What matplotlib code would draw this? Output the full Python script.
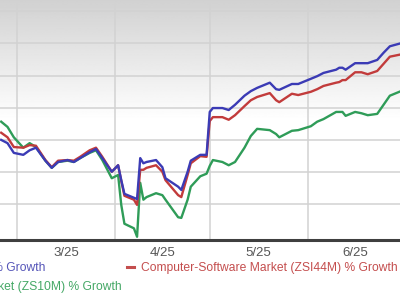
import numpy as np
import pandas as pd
import matplotlib
matplotlib.use("Agg")
import matplotlib.pyplot as plt
from matplotlib.lines import Line2D

plt.rcParams["font.family"] = ["Liberation Sans", "DejaVu Sans"]

dates = pd.to_datetime([
    "2025-02-24", "2025-02-26", "2025-02-28",
    "2025-03-03", "2025-03-05", "2025-03-07", "2025-03-10", "2025-03-12", "2025-03-14",
    "2025-03-17", "2025-03-19", "2025-03-21", "2025-03-24", "2025-03-26", "2025-03-28",
    "2025-03-31",
    "2025-04-02", "2025-04-03", "2025-04-04", "2025-04-07", "2025-04-08", "2025-04-09",
    "2025-04-10", "2025-04-11", "2025-04-14", "2025-04-16", "2025-04-17", "2025-04-21",
    "2025-04-22", "2025-04-24", "2025-04-25", "2025-04-28", "2025-04-30",
    "2025-05-01", "2025-05-02", "2025-05-05", "2025-05-07", "2025-05-09", "2025-05-12",
    "2025-05-14", "2025-05-16", "2025-05-20", "2025-05-22", "2025-05-23", "2025-05-27",
    "2025-05-29",
    "2025-06-02", "2025-06-04", "2025-06-06", "2025-06-10", "2025-06-11", "2025-06-12",
    "2025-06-13", "2025-06-16", "2025-06-18", "2025-06-20", "2025-06-23", "2025-06-25",
    "2025-06-27", "2025-06-30",
])

stock = [
    -4.6, -5.1, -6.6,
    -6.9, -6.2, -5.8, -7.8, -8.9, -8.0, -7.7, -8.0, -7.4, -6.5, -6.0, -7.4, -9.5,
    -8.5, -10.8, -12.9, -13.5, -13.7, -7.4, -8.2, -8.0, -7.7, -8.8, -10.5, -11.8,
    -12.3, -9.5, -7.8, -6.9, -6.9,
    -0.3, 0.3, 0.3, 0.0, 0.8, 2.2, 2.9, 3.4, 4.2, 3.2, 3.1, 4.0, 4.0,
    4.8, 5.2, 5.7, 6.2, 6.5, 6.5, 6.2, 7.2, 7.2, 7.2, 7.7, 8.8, 9.8, 10.2,
]
industry = [
    -3.5, -4.2, -5.7,
    -5.8, -5.4, -5.5, -7.7, -8.8, -7.8, -7.7, -7.8, -7.2, -6.2, -5.8, -7.2, -9.5,
    -8.5, -10.9, -13.2, -13.8, -14.6, -9.2, -9.2, -8.9, -8.5, -9.5, -10.8, -13.1,
    -13.4, -10.0, -8.2, -7.1, -7.2,
    -1.7, -1.1, -1.1, -1.5, -0.8, 0.6, 1.5, 2.0, 2.6, 1.5, 1.2, 2.5, 2.3,
    2.8, 3.2, 3.7, 4.2, 4.3, 4.6, 4.6, 5.8, 5.8, 5.5, 6.0, 7.1, 8.2, 8.5,
]
sector = [
    -1.8, -2.6, -4.2,
    -5.8, -5.1, -5.7, -7.8, -8.9, -8.0, -7.8, -8.0, -7.4, -6.6, -6.2, -7.7, -10.5,
    -10.0, -14.6, -17.5, -18.2, -19.5, -11.2, -13.8, -13.4, -12.8, -13.1, -13.8, -16.5,
    -16.6, -13.8, -11.8, -10.2, -9.8,
    -8.6, -7.7, -8.0, -8.5, -8.0, -5.8, -4.0, -2.9, -3.1, -3.7, -4.2, -3.2, -3.1,
    -2.5, -1.8, -1.4, -0.3, -0.3, -0.3, -0.9, -0.3, -0.5, -0.8, -0.6, 0.8, 2.2, 2.8,
]

month_starts = pd.to_datetime(["2025-03-01", "2025-04-01", "2025-05-01", "2025-06-01"])
month_mids = pd.to_datetime(["2025-03-16 12:00", "2025-04-16 00:00",
                             "2025-05-16 12:00", "2025-06-16 00:00"])
month_labels = ["3/25", "4/25", "5/25", "6/25"]
y_grid = [-14.5, -9.55, -4.6, 0.35, 5.3, 10.25, 15.2]

labels = [
    "Microsoft Corporation (MSFT) % Growth",
    "Computer-Software Market (ZSI44M) % Growth",
    "Computer and Technology Market (ZS10M) % Growth",
]
colors = ["#3b3bb5", "#c23b3b", "#2f9c58"]
text_colors = ["#5555b8", "#c44e4e", "#45a866"]

fig = plt.figure(figsize=(4, 3), dpi=100)

# gray-to-white backdrop behind the plot area
bg = fig.add_axes([0, 0.2, 1, 0.8], zorder=0)
grad = np.clip(np.linspace(0.82, 1.18, 256), 0, 1).reshape(-1, 1)
bg.imshow(grad, cmap="gray", vmin=0, vmax=1, aspect="auto", extent=[0, 1, 0, 1])
bg.set_axis_off()

ax = fig.add_axes([0, 0.2, 1, 0.8], zorder=1)
ax.patch.set_alpha(0)

for vals, c in zip([sector, industry, stock], [colors[2], colors[1], colors[0]]):
    ax.plot(dates, vals, color=c, lw=1.7, solid_joinstyle="round")

ax.set_xlim(pd.Timestamp("2025-02-23 15:00"), pd.Timestamp("2025-06-30 05:00"))
ax.set_ylim(-20, 16.92)

ax.set_xticks(month_starts)
ax.set_xticklabels([])
ax.set_xticks(month_mids, minor=True)
ax.set_xticklabels(month_labels, minor=True)
ax.set_yticks(y_grid)
ax.set_yticklabels([])
ax.tick_params(which="both", length=0)
ax.tick_params(axis="x", which="minor", pad=5, labelsize=9.5, labelcolor="#555555")
ax.grid(True, which="major", color="#d2d2d2", lw=1.1)
ax.set_axisbelow(True)

for s in ["top", "left", "right"]:
    ax.spines[s].set_visible(False)
ax.spines["bottom"].set_color("#3f3f3f")
ax.spines["bottom"].set_linewidth(2.2)

# legend as plain text, partly cut off by the left edge like the original
fs = 8.7
fig.text(45 / 400, 1 - 268 / 300, labels[0], ha="right", va="center",
         fontsize=fs, color=text_colors[0])
fig.add_artist(Line2D([127 / 400, 134 / 400], [1 - 267 / 300] * 2,
                      color=text_colors[1], lw=2.2, transform=fig.transFigure))
fig.text(141 / 400, 1 - 268 / 300, labels[1], ha="left", va="center",
         fontsize=fs, color=text_colors[1])
fig.text(122 / 400, 1 - 287 / 300, labels[2], ha="right", va="center",
         fontsize=fs, color=text_colors[2])

fig.savefig("out.png", dpi=100)
